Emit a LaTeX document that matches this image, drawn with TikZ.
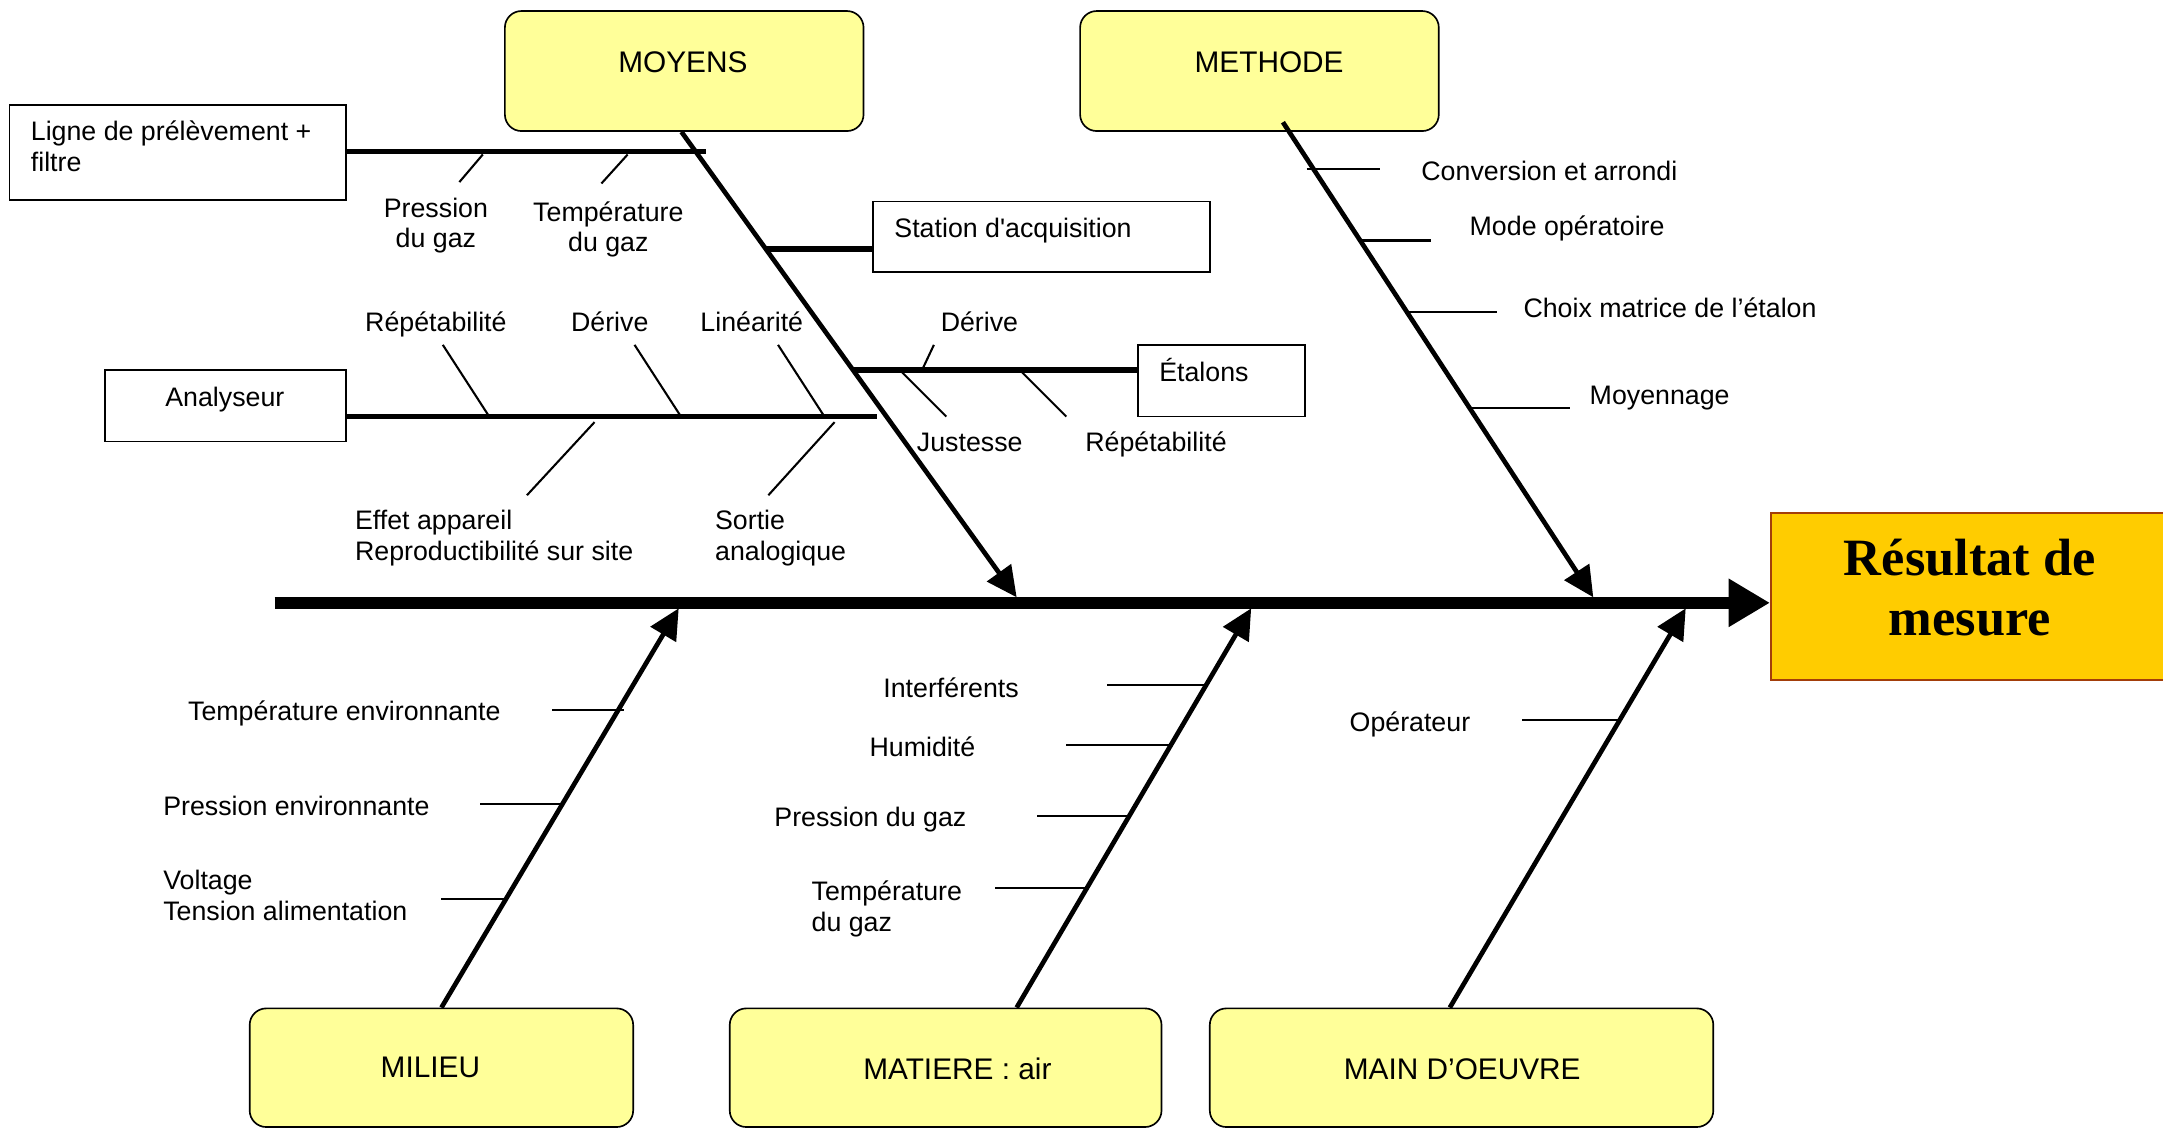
\documentclass[tikz,border=0pt]{standalone}
\usepackage{fontspec}
\setmainfont{Liberation Sans}
\newfontfamily\titlefont{Liberation Serif}
\usetikzlibrary{arrows.meta,calc}

\definecolor{causefill}{HTML}{FFFF99}
\definecolor{effectfill}{HTML}{FFCC00}
\definecolor{effectline}{HTML}{A33E0A}

\begin{document}
\begin{tikzpicture}[x=0.5pt,y=-0.5pt,
  cause/.style={draw=black, line width=0.6pt, fill=causefill, rounded corners=6pt, inner sep=0pt},
  subbox/.style={draw=black, line width=0.6pt, fill=white, inner sep=0pt},
  txt/.style={font=\fontsize{9.7}{11}\selectfont, inner sep=0pt, text height=0.75em, text depth=0pt},
  txtm/.style={font=\fontsize{9.7}{11}\selectfont, inner sep=0pt},
  head/.style={font=\fontsize{10.8}{13}\selectfont, inner sep=0pt},
  spine/.style={line width=4.2pt, -{Triangle[length=15pt,width=16.5pt]}},
  bone/.style={line width=1.7pt, -{Triangle[length=11pt,width=10.5pt]}},
  bar/.style={line width=2pt},
  tick/.style={line width=0.75pt},
]
\useasboundingbox (0,0) rectangle (1568,818);

% ---- category boxes ----
\node[cause, minimum width=130pt, minimum height=43.5pt] (moyens)  at (496,51.5) {};
\node[cause, minimum width=130pt, minimum height=43.5pt] (methode) at (913,51.5) {};
\node[cause, minimum width=139pt, minimum height=43pt] (milieu)  at (320,774) {};
\node[cause, minimum width=156.5pt, minimum height=43pt] (matiere) at (685.5,774) {};
\node[cause, minimum width=182.5pt, minimum height=43pt] (mainoeuvre) at (1059.5,774) {};

\node[head] (moyens-t)  at (495,45)  {MOYENS};
\node[head] (methode-t) at (920,45)  {METHODE};
\node[head] (milieu-t)  at (312,774) {MILIEU};
\node[head] (matiere-t) at (694,775) {MATIERE : air};
\node[head] (mainoeuvre-t) at (1060,775) {MAIN D’OEUVRE};

% ---- effect box ----
\node[draw=effectline, line width=0.9pt, fill=effectfill, minimum width=144pt, minimum height=60.5pt, inner sep=0pt]
  (resultat) at (1428,432.5) {};
\node[font=\titlefont\bfseries\fontsize{19}{22}\selectfont, align=center, inner sep=0pt]
  (resultat-t) at (1428,426) {Résultat de\\mesure};

% ---- sub-cause boxes ----
\node[subbox, minimum width=122pt, minimum height=34.5pt] (ligne) at (129,110.5) {};
\node[txtm, anchor=west, align=left] (ligne-t) at (22,106) {Ligne de prélèvement +\\filtre};
\node[subbox, minimum width=122pt, minimum height=25.5pt] (station) at (755,171.5) {};
\node[txt, anchor=west] (station-t) at (648,165) {Station d\textquotesingle acquisition};
\node[subbox, minimum width=87.5pt, minimum height=26pt] (analyseur) at (163.5,294) {};
\node[txt] (analyseur-t) at (163,287) {Analyseur};
\node[subbox, minimum width=60.5pt, minimum height=26pt] (etalons) at (885.5,276) {};
\node[txt, anchor=west] (etalons-t) at (840,269) {Étalons};

% ---- spine and bones ----
\coordinate (tail) at (199,437);
\draw[spine] (tail) -- (tail -| resultat.west);

\coordinate (moyB) at ([xshift=-1pt]moyens.south);
\coordinate (metB) at ([xshift=8.5pt,yshift=3.5pt]methode.south);
\coordinate (milB) at (milieu.north);
\coordinate (matB) at ([xshift=25.75pt]matiere.north);
\coordinate (maiB) at ([xshift=-4.25pt]mainoeuvre.north);

\coordinate (tipMoy) at (737,433);
\coordinate (tipMet) at (1155,433);
\coordinate (tipMil) at (492,441);
\coordinate (tipMat) at (907,441);
\coordinate (tipMai) at (1222,441);

\draw[bone] (moyB) -- (tipMoy);
\draw[bone] (metB) -- (tipMet);
\draw[bone] (milB) -- (tipMil);
\draw[bone] (matB) -- (tipMat);
\draw[bone] (maiB) -- (tipMai);

% ---- MOYENS: secondary branches ----
\coordinate (lgEnd) at (512,110);
\draw[bar] (lgEnd -| ligne.east) -- (lgEnd);
\coordinate (stA) at ($(moyB)!.2515!(tipMoy)$);
\draw[bar] (stA) -- (stA -| station.west);
\coordinate (anEnd) at (636,302);
\draw[bar] (anEnd -| analyseur.east) -- (anEnd);
\coordinate (etA) at ($(moyB)!.5118!(tipMoy)$);
\draw[bar] (etA) -- (etA -| etalons.west);

% ligne de prélèvement
\draw[tick] (350,112) -- (333,132);
\draw[tick] (455,112) -- (436,133);
\node[txtm, align=center] (pg1) at (316,163.5) {Pression\\du gaz};
\node[txtm, align=center] (tg1) at (441,166.5) {Température\\du gaz};

% analyseur
\draw[tick] (321,250) -- (354,301);
\draw[tick] (460,250) -- (493,301);
\draw[tick] (564,250) -- (597,301);
\draw[tick] (431,306) -- (382,359);
\draw[tick] (605,306) -- (557,359);
\node[txt] (rep1) at (316,233) {Répétabilité};
\node[txt] (der1) at (442,233) {Dérive};
\node[txt] (lin1) at (545,233) {Linéarité};
\node[txtm, anchor=west, align=left] (eff1) at (257,390) {Effet appareil\\Reproductibilité sur site};
\node[txtm, anchor=west, align=left] (sor1) at (518,390) {Sortie\\analogique};

% étalons
\draw[tick] (677,250) -- (669,267);
\draw[tick] (653,269) -- (686,302);
\draw[tick] (740,269) -- (773,302);
\node[txt] (der2) at (710,233) {Dérive};
\node[txt] (jus2) at (703,320) {Justesse};
\node[txt] (rep2) at (838,320) {Répétabilité};

% ---- METHODE ----
\draw[tick] ($(metB)!.0986!(tipMet)$) ++(-5,0) -- ++(53,0);
\draw[tick] ($(metB)!.249!(tipMet)$) -- ++(51.5,0);
\draw[tick] ($(metB)!.40!(tipMet)$) -- ++(65,0);
\draw[tick] ($(metB)!.6014!(tipMet)$) -- ++(73,0);
\node[txt, anchor=west] (met1) at (1030,123) {Conversion et arrondi};
\node[txt, anchor=west] (met2) at (1065,163) {Mode opératoire};
\node[txt, anchor=west] (met3) at (1104,223) {Choix matrice de l’étalon};
\node[txt, anchor=west] (met4) at (1152,286) {Moyennage};

% ---- MILIEU ----
\draw[tick] ($(milB)!.745!(tipMil)$) ++(4,0) -- ++(-52,0);
\draw[tick] ($(milB)!.510!(tipMil)$) -- ++(-60,0);
\draw[tick] ($(milB)!.272!(tipMil)$) -- ++(-47,0);
\node[txt, anchor=west] (mil1) at (136,515) {Température environnante};
\node[txt, anchor=west] (mil2) at (118,584) {Pression environnante};
\node[txtm, anchor=west, align=left] (mil3) at (118,649) {Voltage\\Tension alimentation};

% ---- MATIERE ----
\draw[tick] ($(matB)!.807!(tipMat)$) -- ++(-72,0);
\draw[tick] ($(matB)!.6586!(tipMat)$) -- ++(-76,0);
\draw[tick] ($(matB)!.4793!(tipMat)$) -- ++(-66.5,0);
\draw[tick] ($(matB)!.30!(tipMat)$) -- ++(-67,0);
\node[txt, anchor=west] (mat1) at (640,498) {Interférents};
\node[txt, anchor=west] (mat2) at (630,541) {Humidité};
\node[txt, anchor=west] (mat3) at (561,592) {Pression du gaz};
\node[txtm, anchor=west, align=left] (mat4) at (588,659) {Température\\du gaz};

% ---- MAIN D'OEUVRE ----
\draw[tick] ($(maiB)!.7207!(tipMai)$) -- ++(-71,0);
\node[txt, anchor=west] (mai1) at (978,523) {Opérateur};

\end{tikzpicture}
\end{document}
